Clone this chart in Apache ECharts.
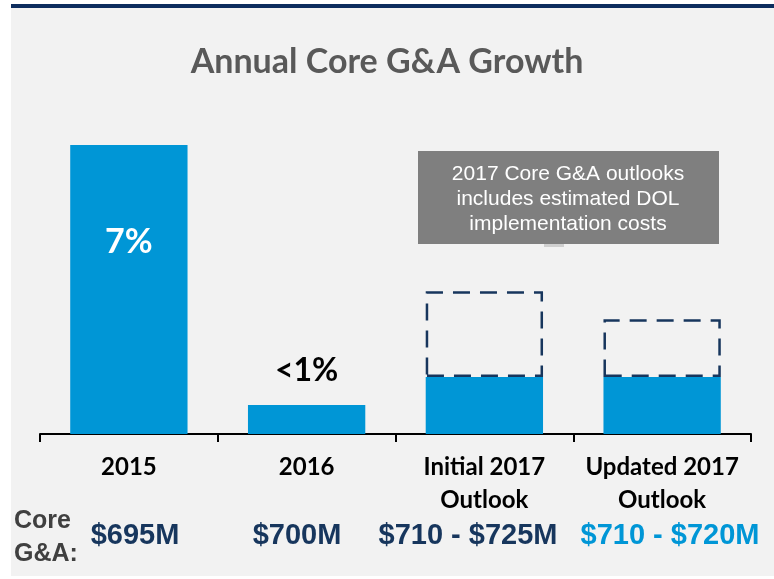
<!DOCTYPE html>
<html>
<head>
<meta charset="utf-8">
<script src="https://cdn.jsdelivr.net/npm/echarts@6/dist/echarts.min.js"></script>
<style>
  html, body { margin: 0; padding: 0; background: #ffffff; }
  #main { width: 774px; height: 579px; }
</style>
</head>
<body>
<div id="main"></div>
<script>
// categories and values (growth %)
var categories = ['2015', '2016', 'Initial 2017\nOutlook', 'Updated 2017\nOutlook'];
var baseGrowth = [7, 0.7, 1.38, 1.38];
var outlookExtra = ['-', '-', 2.08, 1.4];
var growthLabels = ['7%', '<1%', '', ''];
var coreGA = ['$695M', '$700M', '$710 - $725M', '$710 - $720M'];
var coreGAColors = ['#17365d', '#17365d', '#17365d', '#0096d6'];
var coreGAx = [135, 297, 468, 670];
var noteLines = ['2017 Core G&A outlooks', 'includes estimated DOL', 'implementation costs'];

var myChart = echarts.init(document.getElementById('main'));

var graphics = [
    { type: 'rect', z: -10, silent: true, shape: { x: 11, y: 8, width: 763, height: 568 }, style: { fill: '#f2f2f2' } },
    { type: 'rect', z: -9, silent: true, shape: { x: 11, y: 4, width: 763, height: 4 }, style: { fill: '#0d2d5e' } },
    // annotation box
    { type: 'rect', z: 5, shape: { x: 544, y: 243, width: 20, height: 4 }, style: { fill: '#cfcfcf' } },
    { type: 'rect', z: 5, shape: { x: 418, y: 151, width: 301, height: 93 }, style: { fill: '#7f7f7f' } },
    {
        type: 'text', z: 6, x: 568, y: 199,
        style: {
            text: noteLines.join('\n'), fill: '#ffffff',
            font: '21px "Liberation Sans", Arial, sans-serif',
            lineHeight: 25, align: 'center', verticalAlign: 'middle'
        }
    },
    {
        type: 'text', x: 14, y: 538,
        style: {
            text: 'Core\nG&A:', fill: '#404040',
            font: 'bold 25px "Liberation Sans", Arial, sans-serif',
            lineHeight: 33, align: 'left', verticalAlign: 'middle'
        }
    }
];
coreGA.forEach(function (t, i) {
    graphics.push({
        type: 'text', x: coreGAx[i], y: 536,
        style: {
            text: t, fill: coreGAColors[i],
            font: 'bold 29px "Liberation Sans", Arial, sans-serif',
            align: 'center', verticalAlign: 'middle'
        }
    });
});

var option = {
    backgroundColor: 'transparent',
    animation: false,
    title: {
        text: 'Annual Core G&A Growth',
        left: 'center',
        top: 40,
        textStyle: { fontFamily: 'Lato', fontWeight: 'bold', fontSize: 34, color: '#595959' }
    },
    grid: { left: 40, right: 23, top: 145, bottom: 145 },
    xAxis: {
        type: 'category',
        data: categories,
        axisLine: { lineStyle: { color: '#000000', width: 2 } },
        axisTick: { show: true, interval: 0, length: 8, lineStyle: { color: '#000000', width: 2 } },
        axisLabel: {
            interval: 0,
            margin: 17,
            fontFamily: 'Lato', fontWeight: 'bold', fontSize: 24, color: '#000000',
            lineHeight: 33
        }
    },
    yAxis: {
        type: 'value', min: 0, max: 7, show: false,
        splitLine: { show: false }
    },
    series: [
        {
            type: 'bar',
            stack: 'g',
            barWidth: '66%',
            data: baseGrowth.map(function (v, i) {
                var lbl = { show: false };
                if (i === 0) {
                    lbl = { show: true, position: 'insideTop', distance: 80, formatter: growthLabels[i],
                        color: '#ffffff', fontFamily: 'Lato', fontWeight: 'bold', fontSize: 34 };
                } else if (growthLabels[i]) {
                    lbl = { show: true, position: 'top', distance: 18, formatter: growthLabels[i],
                        color: '#000000', fontFamily: 'Lato', fontWeight: 'bold', fontSize: 32 };
                }
                return { value: v, label: lbl };
            }),
            itemStyle: { color: '#0096d6' }
        },
        {
            type: 'bar',
            stack: 'g',
            barWidth: '66%',
            data: outlookExtra,
            itemStyle: {
                color: 'rgba(0,0,0,0)',
                borderColor: '#17365d',
                borderWidth: 2.5,
                borderType: [17, 10]
            }
        }
    ],
    graphic: graphics
};
myChart.setOption(option);
</script>
</body>
</html>
